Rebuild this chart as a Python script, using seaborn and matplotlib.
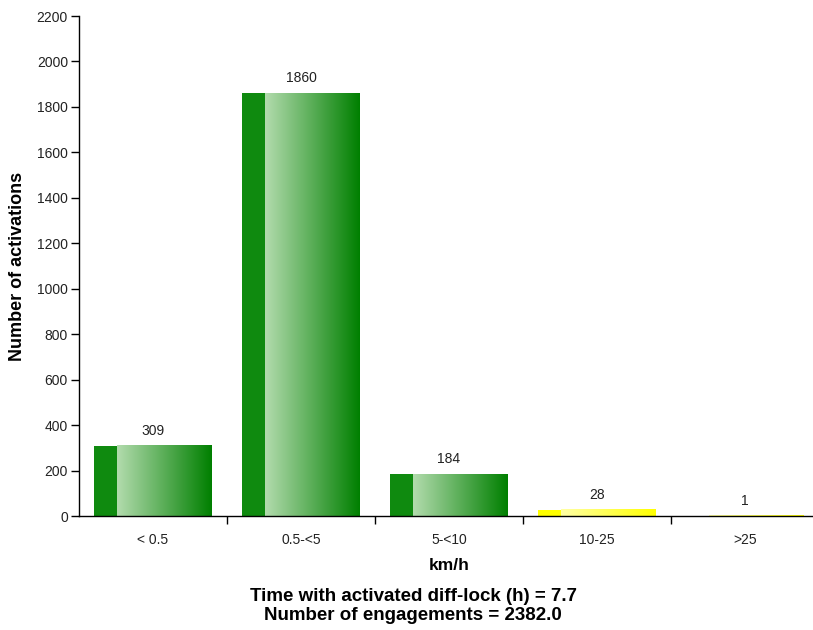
import numpy as np
import pandas as pd
import matplotlib
matplotlib.use('Agg')
import matplotlib.pyplot as plt
import seaborn as sns
from matplotlib.colors import LinearSegmentedColormap

# Data
speed_bins = ['< 0.5', '0.5-<5', '5-<10', '10-25', '>25']
activations = [309, 1860, 184, 28, 1]
bar_kind = ['green', 'green', 'green', 'yellow', 'yellow']
time_active_h = 7.7
engagements = 2382.0

df = pd.DataFrame({'speed': speed_bins, 'count': activations, 'kind': bar_kind})

sns.set_style('white')
plt.rcParams['font.family'] = ['Liberation Sans', 'DejaVu Sans']
plt.rcParams['text.color'] = 'black'

fig = plt.figure(figsize=(8.13, 6.3), dpi=100)
ax = fig.add_axes([79 / 813, 114 / 630, 740 / 813, 500 / 630])

sns.barplot(data=df, x='speed', y='count', color='green', width=0.8, ax=ax)

# gradient fills: solid strip on the left, then light -> saturated
styles = {
    'green': ((0.06, 0.54, 0.06), (0.70, 0.86, 0.68), (0.0, 0.50, 0.0)),
    'yellow': ((1.0, 1.0, 0.0), (1.0, 1.0, 0.65), (1.0, 1.0, 0.0)),
}
for patch, kind in zip(ax.patches, df['kind']):
    solid, light, dark = styles[kind]
    patch.set_facecolor(solid)
    patch.set_edgecolor('none')
    x0, y0 = patch.get_x(), patch.get_y()
    w, h = patch.get_width(), patch.get_height()
    strip = w * 0.2
    cmap = LinearSegmentedColormap.from_list('g', [light, dark])
    grad = np.linspace(0, 1, 256).reshape(1, -1)
    ax.imshow(grad, cmap=cmap, aspect='auto', interpolation='bilinear',
              extent=(x0 + strip, x0 + w, y0, y0 + h), zorder=patch.get_zorder() + 0.1)

for i, v in enumerate(activations):
    ax.text(i, v + 35, f'{v}', ha='center', va='bottom', fontsize=10, color='#222222')

ax.set_xlim(-0.5, 4.5)
ax.set_ylim(0, 2200)
ax.set_yticks(np.arange(0, 2201, 200))
ax.set_xticks(range(len(speed_bins)))
ax.set_xticklabels(speed_bins)
ax.set_xticks(np.arange(0.5, 4.6, 1), minor=True)
ax.tick_params(axis='x', which='major', length=0, pad=12, labelsize=10, labelcolor='#222222')
ax.tick_params(axis='x', which='minor', length=6, width=1, color='black', direction='out')
ax.tick_params(axis='y', length=6, width=1, color='black', direction='out', labelsize=10,
               pad=2, labelcolor='#222222')
ax.xaxis.set_tick_params(bottom=True, which='both')
ax.yaxis.set_tick_params(left=True)

sns.despine(ax=ax, top=True, right=True)
for s in ['left', 'bottom']:
    ax.spines[s].set_color('black')
    ax.spines[s].set_linewidth(1)

ax.set_xlabel('km/h', fontsize=12.5, fontweight='bold', labelpad=8, color='black')
ax.set_ylabel('Number of activations', fontsize=13, fontweight='bold', labelpad=8, color='black')

fig.text(413 / 813, 1 - 606 / 630,
         f'Time with activated diff-lock (h) = {time_active_h}\nNumber of engagements = {engagements}',
         ha='center', va='center', fontsize=13.5, fontweight='bold', linespacing=1.1, color='black')

fig.savefig('out.png', dpi=100)
